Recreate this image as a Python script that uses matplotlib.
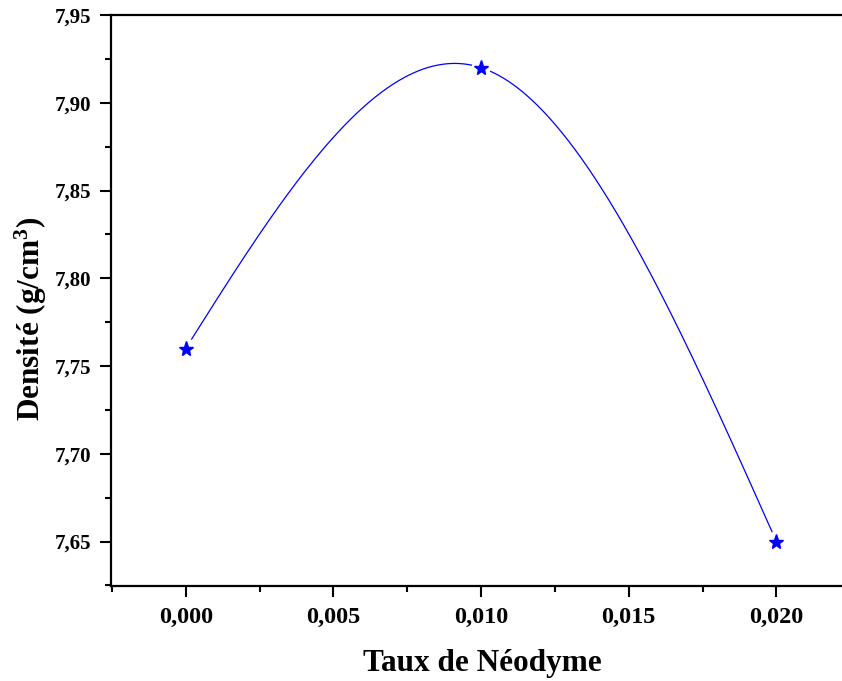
import numpy as np
import matplotlib
matplotlib.use("Agg")
import matplotlib.pyplot as plt
from matplotlib.ticker import MultipleLocator, FuncFormatter

# data
taux = [0.000, 0.010, 0.020]
densite = [7.76, 7.92, 7.65]


def natural_spline(x, y, n=400):
    # natural cubic spline through the points (same as the Origin "spline" connection)
    x = np.asarray(x, float)
    y = np.asarray(y, float)
    m = len(x)
    h = np.diff(x)
    A = np.zeros((m, m))
    rhs = np.zeros(m)
    A[0, 0] = A[-1, -1] = 1
    for i in range(1, m - 1):
        A[i, i - 1] = h[i - 1]
        A[i, i] = 2 * (h[i - 1] + h[i])
        A[i, i + 1] = h[i]
        rhs[i] = 6 * ((y[i + 1] - y[i]) / h[i] - (y[i] - y[i - 1]) / h[i - 1])
    M = np.linalg.solve(A, rhs)
    xs = np.linspace(x[0], x[-1], n)
    k = np.clip(np.searchsorted(x, xs) - 1, 0, m - 2)
    t0 = xs - x[k]
    t1 = x[k + 1] - xs
    hk = h[k]
    ys = (M[k] * t1 ** 3 + M[k + 1] * t0 ** 3) / (6 * hk) \
        + (y[k] / hk - M[k] * hk / 6) * t1 + (y[k + 1] / hk - M[k + 1] * hk / 6) * t0
    return xs, ys


plt.rcParams['font.family'] = ['Liberation Serif', 'DejaVu Serif']
plt.rcParams['font.weight'] = 'bold'
plt.rcParams['mathtext.fontset'] = 'custom'
plt.rcParams['mathtext.rm'] = 'Liberation Serif:bold'
plt.rcParams['mathtext.it'] = 'Liberation Serif:bold'
plt.rcParams['mathtext.bf'] = 'Liberation Serif:bold'

fig = plt.figure(figsize=(8.42, 6.81), dpi=100)
ax = fig.add_axes([111 / 842, 1 - 586 / 681, 731 / 842, 571 / 681])

ax.set_xlim(-0.00253, 0.02222)
ax.set_ylim(7.6247, 7.95)

# spline line with a small gap around each marker (Origin style)
xs, ys = natural_spline(taux, densite)
pix = ax.transData.transform(np.column_stack([xs, ys]))
pts = ax.transData.transform(np.column_stack([taux, densite]))
gap = np.zeros(len(xs), bool)
for px, py in pts:
    gap |= np.hypot(pix[:, 0] - px, pix[:, 1] - py) < 9
ys = np.where(gap, np.nan, ys)
ax.plot(xs, ys, color='#0000ff', lw=0.9)
ax.plot(taux, densite, linestyle='none', marker='*', markersize=11,
        color='#0000ff')

ax.xaxis.set_major_locator(MultipleLocator(0.005))
ax.xaxis.set_minor_locator(MultipleLocator(0.0025))
ax.yaxis.set_major_locator(MultipleLocator(0.05))
ax.yaxis.set_minor_locator(MultipleLocator(0.025))
ax.xaxis.set_major_formatter(FuncFormatter(lambda v, p: f"{v:.3f}".replace('.', ',')))
ax.yaxis.set_major_formatter(FuncFormatter(lambda v, p: f"{v:.2f}".replace('.', ',')))

for s in ax.spines.values():
    s.set_linewidth(1.6)
ax.spines['right'].set_visible(False)

ax.tick_params(which='major', direction='out', length=8, width=1.5)
ax.tick_params(which='minor', direction='out', length=4.5, width=1.5)
ax.tick_params(axis='x', which='major', labelsize=17.5, pad=7)
ax.tick_params(axis='y', which='major', labelsize=15, pad=6)
ax.tick_params(top=False, right=False)

fig.text(482 / 842, 1 - 671 / 681, "Taux de Néodyme", fontsize=22.5,
         fontweight='bold', ha='center', va='baseline')
fig.text(31 / 842, 1 - 319 / 681, "Densité (g/cm$^3$)", fontsize=22.5,
         fontweight='bold', ha='center', va='center', rotation=90)

fig.savefig("out.png", dpi=100)
